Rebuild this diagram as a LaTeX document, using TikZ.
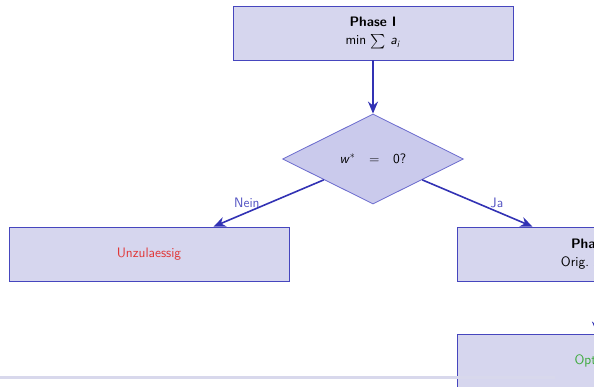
\documentclass[tikz,border=0pt]{standalone}
\usepackage{amsmath}
\usetikzlibrary{shapes.geometric,arrows.meta}
\definecolor{boxfill}{RGB}{214,214,238}
\definecolor{boxline}{RGB}{70,70,190}
\definecolor{decfill}{RGB}{202,202,236}
\definecolor{decline}{RGB}{105,105,205}
\definecolor{arrowcol}{RGB}{50,50,180}
\definecolor{labelcol}{RGB}{85,85,195}
\definecolor{failred}{RGB}{225,55,55}
\definecolor{okgreen}{RGB}{60,170,60}
\definecolor{barcol}{RGB}{216,216,236}
\newcommand{\sfvar}[1]{\textit{#1}}
\tikzset{
  block/.style={rectangle,draw=boxline,fill=boxfill,line width=0.8pt,
    minimum width=280pt,minimum height=54pt,align=center},
  decide/.style={diamond,draw=decline,fill=decfill,line width=0.8pt,
    minimum width=181pt,minimum height=90pt,inner sep=0pt},
  flow/.style={->,draw=arrowcol,line width=1.6pt},
  answer/.style={text=labelcol}
}

\begin{document}
\begin{tikzpicture}[x=1pt,y=-1pt,>={Stealth[length=12pt,width=10pt]},
    font=\fontsize{13.7}{18}\selectfont\sffamily]
    \useasboundingbox (0,0) rectangle (594,387);
    \clip (0,0) rectangle (594,387);

    % Phase I and the test
    \node[block] (p1) at (373,33) {\textbf{Phase I}\\ min $\sum$ \sfvar{a}\textsubscript{\sfvar{i}}};
    \node[decide] (dec) at (373,159) {\sfvar{w}\textsuperscript{$*$}\quad=\quad0?};

    % the two outcomes
    \node[block,text=failred] (unz) at (149,254) {Unzulaessig};
    \node[block] (p2) at (597,254) {\textbf{Phase II}\\ Orig.\ Zielfkt.};
    \node[block,text=okgreen] (opt) at (597,361) {Optimal};

    % arrows
    \draw[flow] (p1) -- (dec);
    \draw[flow] (dec) -- (unz) node[answer,pos=0.5,anchor=east,xshift=-5pt] {Nein};
    \draw[flow] (dec) -- (p2) node[answer,pos=0.5,anchor=west,xshift=9pt] {Ja};
    \draw[flow] (p2) -- (opt);

    % footline
    \draw[barcol,line width=3pt] (0,377) -- (555,377);
\end{tikzpicture}
\end{document}
